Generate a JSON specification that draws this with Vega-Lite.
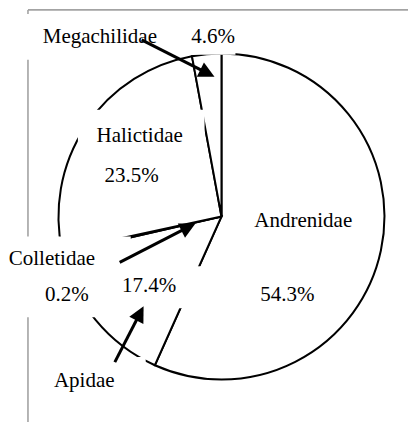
{
  "$schema": "https://vega.github.io/schema/vega-lite/v6.json",
  "width": 409,
  "height": 423,
  "autosize": {"type": "fit", "contains": "padding"},
  "padding": 0,
  "background": "white",
  "config": {"view": {"stroke": null}, "font": "Liberation Serif"},
  "datasets": {
    "slices": [
      {"family": "Andrenidae", "share": 56.7, "rank": 1},
      {"family": "Apidae", "share": 14.7, "rank": 2},
      {"family": "Colletidae", "share": 0.2, "rank": 3},
      {"family": "Halictidae", "share": 25.5, "rank": 4},
      {"family": "Megachilidae", "share": 2.9, "rank": 5}
    ],
    "labels": [
      {"text": "Megachilidae", "x": -0.748, "y": 1.067},
      {"text": "4.6%", "x": -0.052, "y": 1.067},
      {"text": "Halictidae", "x": -0.503, "y": 0.46},
      {"text": "23.5%", "x": -0.552, "y": 0.209},
      {"text": "Andrenidae", "x": 0.503, "y": -0.067},
      {"text": "54.3%", "x": 0.405, "y": -0.521},
      {"text": "Colletidae", "x": -1.043, "y": -0.301},
      {"text": "0.2%", "x": -0.951, "y": -0.521},
      {"text": "17.4%", "x": -0.445, "y": -0.466},
      {"text": "Apidae", "x": -0.844, "y": -1.049}
    ],
    "boxes": [
      {"label": "Megachilidae", "x": -1.27, "x2": -0.319, "y": 1.245, "y2": 0.963},
      {"label": "4.6%", "x": -0.178, "x2": 0.086, "y": 1.184, "y2": 0.994},
      {"label": "Halictidae", "x": -0.883, "x2": -0.104, "y": 0.656, "y2": 0.117},
      {"label": "Colletidae", "x": -1.362, "x2": -0.558, "y": -0.123, "y2": -0.62},
      {"label": "17.4%", "x": -0.675, "x2": -0.104, "y": -0.307, "y2": -0.564},
      {"label": "Apidae", "x": -1.117, "x2": -0.466, "y": -0.865, "y2": -1.135}
    ],
    "arrows": [
      {"label": "Megachilidae", "sx": -0.491, "sy": 1.086, "tx": -0.043, "ty": 0.859},
      {"label": "Colletidae", "sx": -0.626, "sy": -0.282, "tx": -0.16, "ty": -0.043},
      {"label": "Apidae", "sx": -0.656, "sy": -0.896, "tx": -0.479, "ty": -0.552}
    ],
    "frame": [
      {"x": -1.19, "y": 1.27, "x2": 1.147, "y2": 1.27},
      {"x": -1.19, "y": 1.27, "x2": -1.19, "y2": -1.264}
    ]
  },
  "layer": [
    {
      "data": {"name": "frame"},
      "mark": {"type": "rule", "color": "#a3a3a3", "strokeWidth": 1.6},
      "encoding": {
        "x": {"field": "x", "type": "quantitative", "scale": {"domain": [-1.362, 1.147], "nice": false, "zero": false}, "axis": null},
        "y": {"field": "y", "type": "quantitative", "scale": {"domain": [-1.264, 1.331], "nice": false, "zero": false}, "axis": null},
        "x2": {"field": "x2"},
        "y2": {"field": "y2"}
      }
    },
    {
      "data": {"name": "slices"},
      "mark": {"type": "arc", "radius": 163, "fill": "white", "stroke": "black", "strokeWidth": 2},
      "encoding": {
        "theta": {"field": "share", "type": "quantitative", "stack": true},
        "order": {"field": "rank", "type": "quantitative"},
        "x": {"datum": 0, "type": "quantitative", "scale": {"domain": [-1.362, 1.147], "nice": false, "zero": false}, "axis": null},
        "y": {"datum": 0, "type": "quantitative", "scale": {"domain": [-1.264, 1.331], "nice": false, "zero": false}, "axis": null}
      }
    },
    {
      "data": {"name": "boxes"},
      "mark": {"type": "rect", "fill": "white", "stroke": null},
      "encoding": {
        "x": {"field": "x", "type": "quantitative", "scale": {"domain": [-1.362, 1.147], "nice": false, "zero": false}, "axis": null},
        "y": {"field": "y", "type": "quantitative", "scale": {"domain": [-1.264, 1.331], "nice": false, "zero": false}, "axis": null},
        "x2": {"field": "x2"},
        "y2": {"field": "y2"}
      }
    },
    {
      "data": {"name": "labels"},
      "mark": {"type": "text", "font": "Liberation Serif", "fontSize": 21, "align": "center", "baseline": "alphabetic", "color": "black"},
      "encoding": {
        "x": {"field": "x", "type": "quantitative", "scale": {"domain": [-1.362, 1.147], "nice": false, "zero": false}, "axis": null},
        "y": {"field": "y", "type": "quantitative", "scale": {"domain": [-1.264, 1.331], "nice": false, "zero": false}, "axis": null},
        "text": {"field": "text"}
      }
    },
    {
      "data": {"name": "arrows"},
      "transform": [
        {"calculate": "sqrt(pow(datum.tx - datum.sx, 2) + pow(datum.ty - datum.sy, 2))", "as": "len"},
        {"calculate": "datum.tx - 0.05 * (datum.tx - datum.sx) / datum.len", "as": "ex"},
        {"calculate": "datum.ty - 0.05 * (datum.ty - datum.sy) / datum.len", "as": "ey"}
      ],
      "mark": {"type": "rule", "color": "black", "strokeWidth": 3},
      "encoding": {
        "x": {"field": "sx", "type": "quantitative", "scale": {"domain": [-1.362, 1.147], "nice": false, "zero": false}, "axis": null},
        "y": {"field": "sy", "type": "quantitative", "scale": {"domain": [-1.264, 1.331], "nice": false, "zero": false}, "axis": null},
        "x2": {"field": "ex"},
        "y2": {"field": "ey"}
      }
    },
    {
      "data": {"name": "arrows"},
      "transform": [
        {"calculate": "atan2(datum.tx - datum.sx, datum.ty - datum.sy) * 180 / PI", "as": "ang"}
      ],
      "mark": {"type": "point", "shape": "M0,0 L0.5,1 L-0.5,1 Z", "filled": true, "color": "black", "opacity": 1, "size": 1000},
      "encoding": {
        "x": {"field": "tx", "type": "quantitative", "scale": {"domain": [-1.362, 1.147], "nice": false, "zero": false}, "axis": null},
        "y": {"field": "ty", "type": "quantitative", "scale": {"domain": [-1.264, 1.331], "nice": false, "zero": false}, "axis": null},
        "angle": {"field": "ang", "type": "quantitative", "scale": null}
      }
    }
  ]
}
